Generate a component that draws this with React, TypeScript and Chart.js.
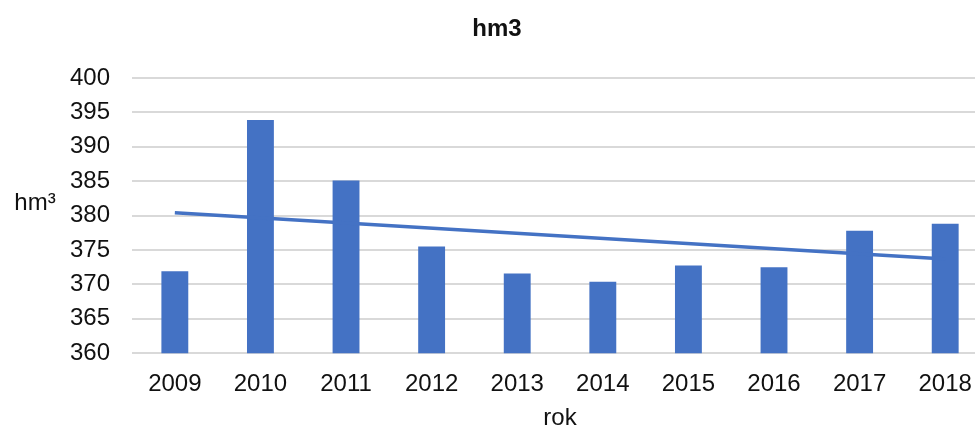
import React, { useEffect, useRef } from "react";
import { Chart, registerables } from "chart.js";

Chart.register(...registerables);

const years = ["2009", "2010", "2011", "2012", "2013", "2014", "2015", "2016", "2017", "2018"];
const volumes = [371.9, 393.9, 385.1, 375.5, 371.6, 370.4, 372.75, 372.5, 377.8, 378.8];
const trend = [380.4, null, null, null, null, null, null, null, null, 373.7];
const yTitle = "hm³";
const chartTitle = "hm3";
const xTitle = "rok";

const FONT = "'Liberation Sans', Arial, sans-serif";
const BLUE = "#4472C4";

const textPlugin = {
  id: "texts",
  afterDraw(chart: any) {
    const ctx = chart.ctx;
    const area = chart.chartArea;
    ctx.save();
    ctx.fillStyle = "#111";
    ctx.textAlign = "center";
    ctx.textBaseline = "middle";
    ctx.font = `bold 24px ${FONT}`;
    ctx.fillText(chartTitle, 497, 29);
    ctx.font = `24px ${FONT}`;
    ctx.fillText(yTitle, 35, (area.top + area.bottom) / 2 - 12);
    ctx.fillText(xTitle, (area.left + area.right) / 2, area.bottom + 65);
    ctx.restore();
  },
};

export default function App() {
  const ref = useRef<HTMLCanvasElement | null>(null);
  useEffect(() => {
    if (!ref.current) return;
    const chart = new Chart(ref.current, {
      type: "bar",
      data: {
        labels: years,
        datasets: [
          {
            type: "line",
            data: trend as any,
            borderColor: BLUE,
            borderWidth: 3.5,
            pointRadius: 0,
            spanGaps: true,
            order: 0,
          } as any,
          {
            type: "bar",
            data: volumes,
            backgroundColor: BLUE,
            barPercentage: 0.314,
            categoryPercentage: 1,
            order: 1,
          },
        ],
      },
      options: {
        animation: false,
        responsive: true,
        maintainAspectRatio: false,
        layout: { padding: { left: 48, right: 6, top: 78, bottom: 15 } },
        plugins: {
          legend: { display: false },
          tooltip: { enabled: false },
          title: { display: false },
        },
        scales: {
          x: {
            grid: { display: false, drawTicks: false },
            border: { display: false },
            ticks: { color: "#111", font: { family: FONT, size: 24 }, padding: 17 },
          },
          y: {
            min: 360,
            max: 400,
            ticks: { stepSize: 5, color: "#111", font: { family: FONT, size: 24 }, padding: 22 },
            grid: { color: "#d9d9d9", lineWidth: 2, drawTicks: false },
            border: { display: false },
          },
        },
      },
      plugins: [textPlugin],
    });
    return () => chart.destroy();
  }, []);
  return (
    <div style={{ position: "fixed", left: 0, top: 0, width: 975, height: 429, overflow: "hidden", background: "#fff" }}>
      <div style={{ position: "absolute", left: 0, top: 0, width: 994, height: 431 }}>
        <canvas ref={ref} />
      </div>
    </div>
  );
}
